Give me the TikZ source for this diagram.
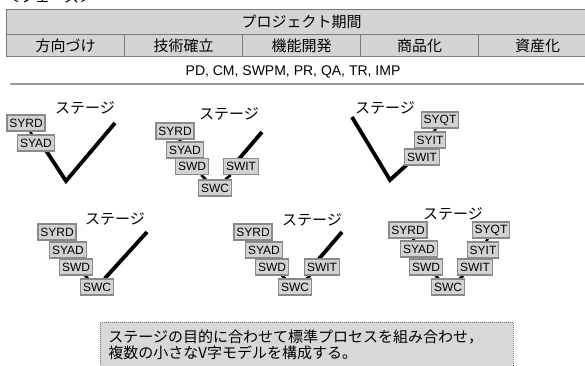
\documentclass[tikz,border=0pt]{standalone}
\usepackage{fontspec}
\setmainfont{Liberation Sans}
\newfontfamily\jp{Noto Sans CJK JP}
\definecolor{tblfill}{HTML}{D4D4D4}
\definecolor{tblline}{HTML}{7A7A7A}
\definecolor{boxfill}{HTML}{D2D2D2}
\definecolor{boxline}{HTML}{8A8A8A}
\definecolor{notefill}{HTML}{D8D8D8}
\pgfdeclarelayer{bg}
\pgfsetlayers{bg,main}
\begin{document}
\begin{tikzpicture}[x=1pt,y=-1pt,
  hdr/.style={draw=tblline, fill=tblfill, line width=1pt, inner sep=0pt, font=\jp\fontsize{15}{15}\selectfont},
  cell/.style={hdr, minimum width=118pt, minimum height=22pt, anchor=north west},
  vbox/.style={draw=boxline, fill=boxfill, line width=1.1pt, inner sep=0pt, inner xsep=2.3pt, minimum height=16pt, font=\fontsize{12}{12}\selectfont},
  stage/.style={inner sep=0pt, font=\jp\fontsize{15}{15}\selectfont},
  conn/.style={line width=2.6pt, black},
  vline/.style={line width=3.8pt, black},
  sepline/.style={line width=2pt, color=black!40},
  note/.style={draw=black!55, dash pattern=on 1pt off 1pt, line width=0.9pt, fill=notefill, anchor=north west, align=left, text width=397pt, inner xsep=8pt, inner ysep=7pt, font=\jp\fontsize{15}{16.5}\selectfont}
]
\useasboundingbox (0,0) rectangle (585,365);
\clip (0,0) rectangle (585,365);

% partially visible heading
\node[anchor=base west, inner sep=0pt, font=\jp\fontsize{15}{15}\selectfont] (phase) at (5,2.5) {＜フェーズ＞};

% table
\node[hdr, minimum width=590pt, minimum height=25pt, anchor=north west] (title) at (6,9) {プロジェクト期間};
\node[cell] (p1) at (6,34) {方向づけ};
\node[cell] (p2) at (124,34) {技術確立};
\node[cell] (p3) at (242,34) {機能開発};
\node[cell] (p4) at (360,34) {商品化};
\node[cell] (p5) at (478,34) {資産化};
\node[inner sep=0pt, font=\fontsize{14}{14}\selectfont] (pd) at (293,72) {PD, CM, SWPM, PR, QA, TR, IMP};
\coordinate (l1) at (10,84);
\coordinate (l2) at (584,84);
\draw[sepline] (l1) -- (l2);

% model 1
\node[stage] (s1) at (85,108) {ステージ};
\node[vbox] (a1) at (26,123) {SYRD};
\node[vbox] (a2) at (36,143) {SYAD};
\coordinate (v1s) at (41,143);
\coordinate (v1b) at (66,181);
\coordinate (v1t) at (115,123);

% model 2
\node[stage] (s2) at (229,114) {ステージ};
\node[vbox] (b1) at (175,131) {SYRD};
\node[vbox] (b2) at (185,150) {SYAD};
\node[vbox] (b3) at (192,166.5) {SWD};
\node[vbox] (b4) at (215,188) {SWC};
\node[vbox] (b5) at (241,166.5) {SWIT};
\coordinate (v2s) at (233,166);
\coordinate (v2t) at (262,132);

% model 3
\node[stage] (s3) at (385,108) {ステージ};
\node[vbox] (c1) at (440,120) {SYQT};
\node[vbox] (c2) at (430,140) {SYIT};
\node[vbox] (c3) at (422,157) {SWIT};
\coordinate (v3t) at (352,117);
\coordinate (v3b) at (390,180);
\coordinate (v3e) at (412,160);

% model 4
\node[stage] (s4) at (115,219) {ステージ};
\node[vbox] (d1) at (57,232) {SYRD};
\node[vbox] (d2) at (68,250) {SYAD};
\node[vbox] (d3) at (76,267) {SWD};
\node[vbox] (d4) at (97,287) {SWC};
\coordinate (v4t) at (147,232);

% model 5
\node[stage] (s5) at (312,220) {ステージ};
\node[vbox] (e1) at (253,232) {SYRD};
\node[vbox] (e2) at (264,250) {SYAD};
\node[vbox] (e3) at (272,267) {SWD};
\node[vbox] (e4) at (295,287) {SWC};
\node[vbox] (e5) at (322,267) {SWIT};
\coordinate (v5s) at (312,267);
\coordinate (v5t) at (342,232);

% model 6
\node[stage] (s6) at (453,214) {ステージ};
\node[vbox] (f1) at (408,230) {SYRD};
\node[vbox] (f2) at (419,249) {SYAD};
\node[vbox] (f3) at (426,267) {SWD};
\node[vbox] (f4) at (448,287) {SWC};
\node[vbox] (f5) at (475,267) {SWIT};
\node[vbox] (f6) at (483,250) {SYIT};
\node[vbox] (f7) at (491,230) {SYQT};

% note
\node[note] (note) at (100,322) {ステージの目的に合わせて標準プロセスを組み合わせ，\\複数の小さなV字モデルを構成する。};

\begin{pgfonlayer}{bg}
  \draw[conn] (a1) -- (a2);
  \draw[vline] (v1s) -- (v1b) -- (v1t);
  \draw[conn] (b1) -- (b2) -- (b3) -- (b4) -- (b5);
  \draw[vline] (v2s) -- (v2t);
  \draw[conn] (c1) -- (c2) -- (c3);
  \draw[vline] (v3t) -- (v3b) -- (v3e);
  \draw[conn] (d1) -- (d2) -- (d3) -- (d4);
  \draw[vline] (d4) -- (v4t);
  \draw[conn] (e1) -- (e2) -- (e3) -- (e4) -- (e5);
  \draw[vline] (v5s) -- (v5t);
  \draw[conn] (f1) -- (f2) -- (f3) -- (f4) -- (f5) -- (f6) -- (f7);
\end{pgfonlayer}
\end{tikzpicture}
\end{document}
